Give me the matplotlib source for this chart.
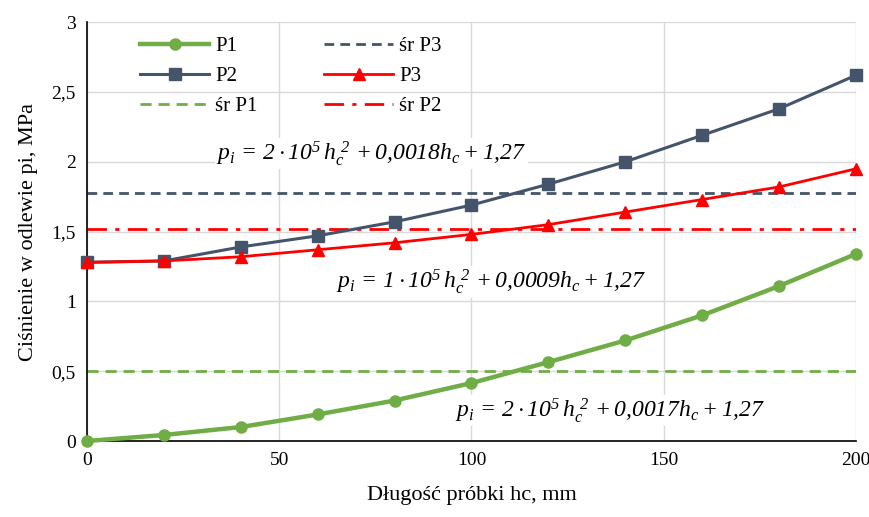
import numpy as np
import matplotlib
matplotlib.use('Agg')
import matplotlib.pyplot as plt
from matplotlib.ticker import FuncFormatter

SERIF = 'Liberation Serif'
plt.rcParams.update({'font.family': 'serif',
                     'font.serif': [SERIF, 'DejaVu Serif'],
                     'mathtext.fontset': 'custom',
                     'mathtext.rm': SERIF + ':italic',
                     'mathtext.it': SERIF + ':italic'})

#%% DATA

hc = [0, 20, 40, 60, 80, 100, 120, 140, 160, 180, 200]
p1 = [0.00, 0.043, 0.10, 0.19, 0.29, 0.415, 0.565, 0.72, 0.90, 1.11, 1.34]
p2 = [1.28, 1.29, 1.39, 1.47, 1.57, 1.69, 1.84, 2.00, 2.19, 2.38, 2.62]
p3 = [1.28, 1.29, 1.32, 1.37, 1.42, 1.48, 1.55, 1.64, 1.73, 1.82, 1.95]
sr_p1 = 0.50
sr_p2 = 1.52
sr_p3 = 1.78

eq_p2 = r'$p_i\,=\,2\cdot 10^5\,h_c^{\;2}\,+0{,}0018h_c+1{,}27$'
eq_p3 = r'$p_i\,=\,1\cdot 10^5\,h_c^{\;2}\,+0{,}0009h_c+1{,}27$'
eq_p1 = r'$p_i\,=\,2\cdot 10^5\,h_c^{\;2}\,+0{,}0017h_c+1{,}27$'

GREEN = '#70ad47'
NAVY = '#44546a'
RED = '#ff0000'

#%% FIGURE

fig = plt.figure(figsize=(8.69, 5.17), dpi=100)
ax = fig.add_axes([0.100, 0.147, 0.885, 0.810])

ax.plot(hc, p1, color=GREEN, lw=3.2, marker='o', ms=8, label='P1', clip_on=False, zorder=5)
ax.plot(hc, p2, color=NAVY, lw=2.2, marker='s', ms=8, label='P2', clip_on=False, zorder=5)
ax.axhline(sr_p1, color=GREEN, lw=2, ls=(0, (4, 2.5)), label='śr P1')
ax.axhline(sr_p3, color=NAVY, lw=2, ls=(0, (3.5, 2.2)), label='śr P3')
ax.plot(hc, p3, color=RED, lw=2, marker='^', ms=9, label='P3', clip_on=False, zorder=5)
ax.axhline(sr_p2, color=RED, lw=2, ls=(0, (7, 3, 1.5, 3)), label='śr P2')

ax.set_xlim(0, 200)
ax.set_ylim(0, 3)
ax.set_xticks([0, 50, 100, 150, 200])
ax.set_yticks(np.arange(0, 3.01, 0.5))
ax.yaxis.set_major_formatter(FuncFormatter(lambda v, _: f'{v:g}'.replace('.', ',')))
ax.tick_params(labelsize=14, length=0, pad=8)
ax.grid(True, color='#d9d9d9', lw=1)
ax.set_axisbelow(True)
for s in ['top', 'right']:
    ax.spines[s].set_visible(False)
for s in ['left', 'bottom']:
    ax.spines[s].set_color('black')
    ax.spines[s].set_linewidth(1.2)

ax.set_xlabel('Długość próbki hc, mm', fontsize=16, labelpad=12)
ax.set_ylabel('Ciśnienie w odlewie pi, MPa', fontsize=16, labelpad=10)

box = dict(facecolor='white', edgecolor='none', pad=1)
ax.text(74, 2.06, eq_p2, fontsize=17, ha='center', va='center', bbox=box, zorder=6)
ax.text(105, 1.14, eq_p3, fontsize=17, ha='center', va='center', bbox=box, zorder=6)
ax.text(136, 0.22, eq_p1, fontsize=17, ha='center', va='center', bbox=box, zorder=6)

h, l = ax.get_legend_handles_labels()
order = ['P1', 'P2', 'śr P1', 'śr P3', 'P3', 'śr P2']
h = [h[l.index(o)] for o in order]
ax.legend(h, order, ncol=2, loc='upper left', bbox_to_anchor=(0.045, 1.01),
          frameon=False, fontsize=15, handlelength=3.3, columnspacing=3.2,
          labelspacing=0.5, handletextpad=0.3)

fig.savefig('out.png', dpi=100)
